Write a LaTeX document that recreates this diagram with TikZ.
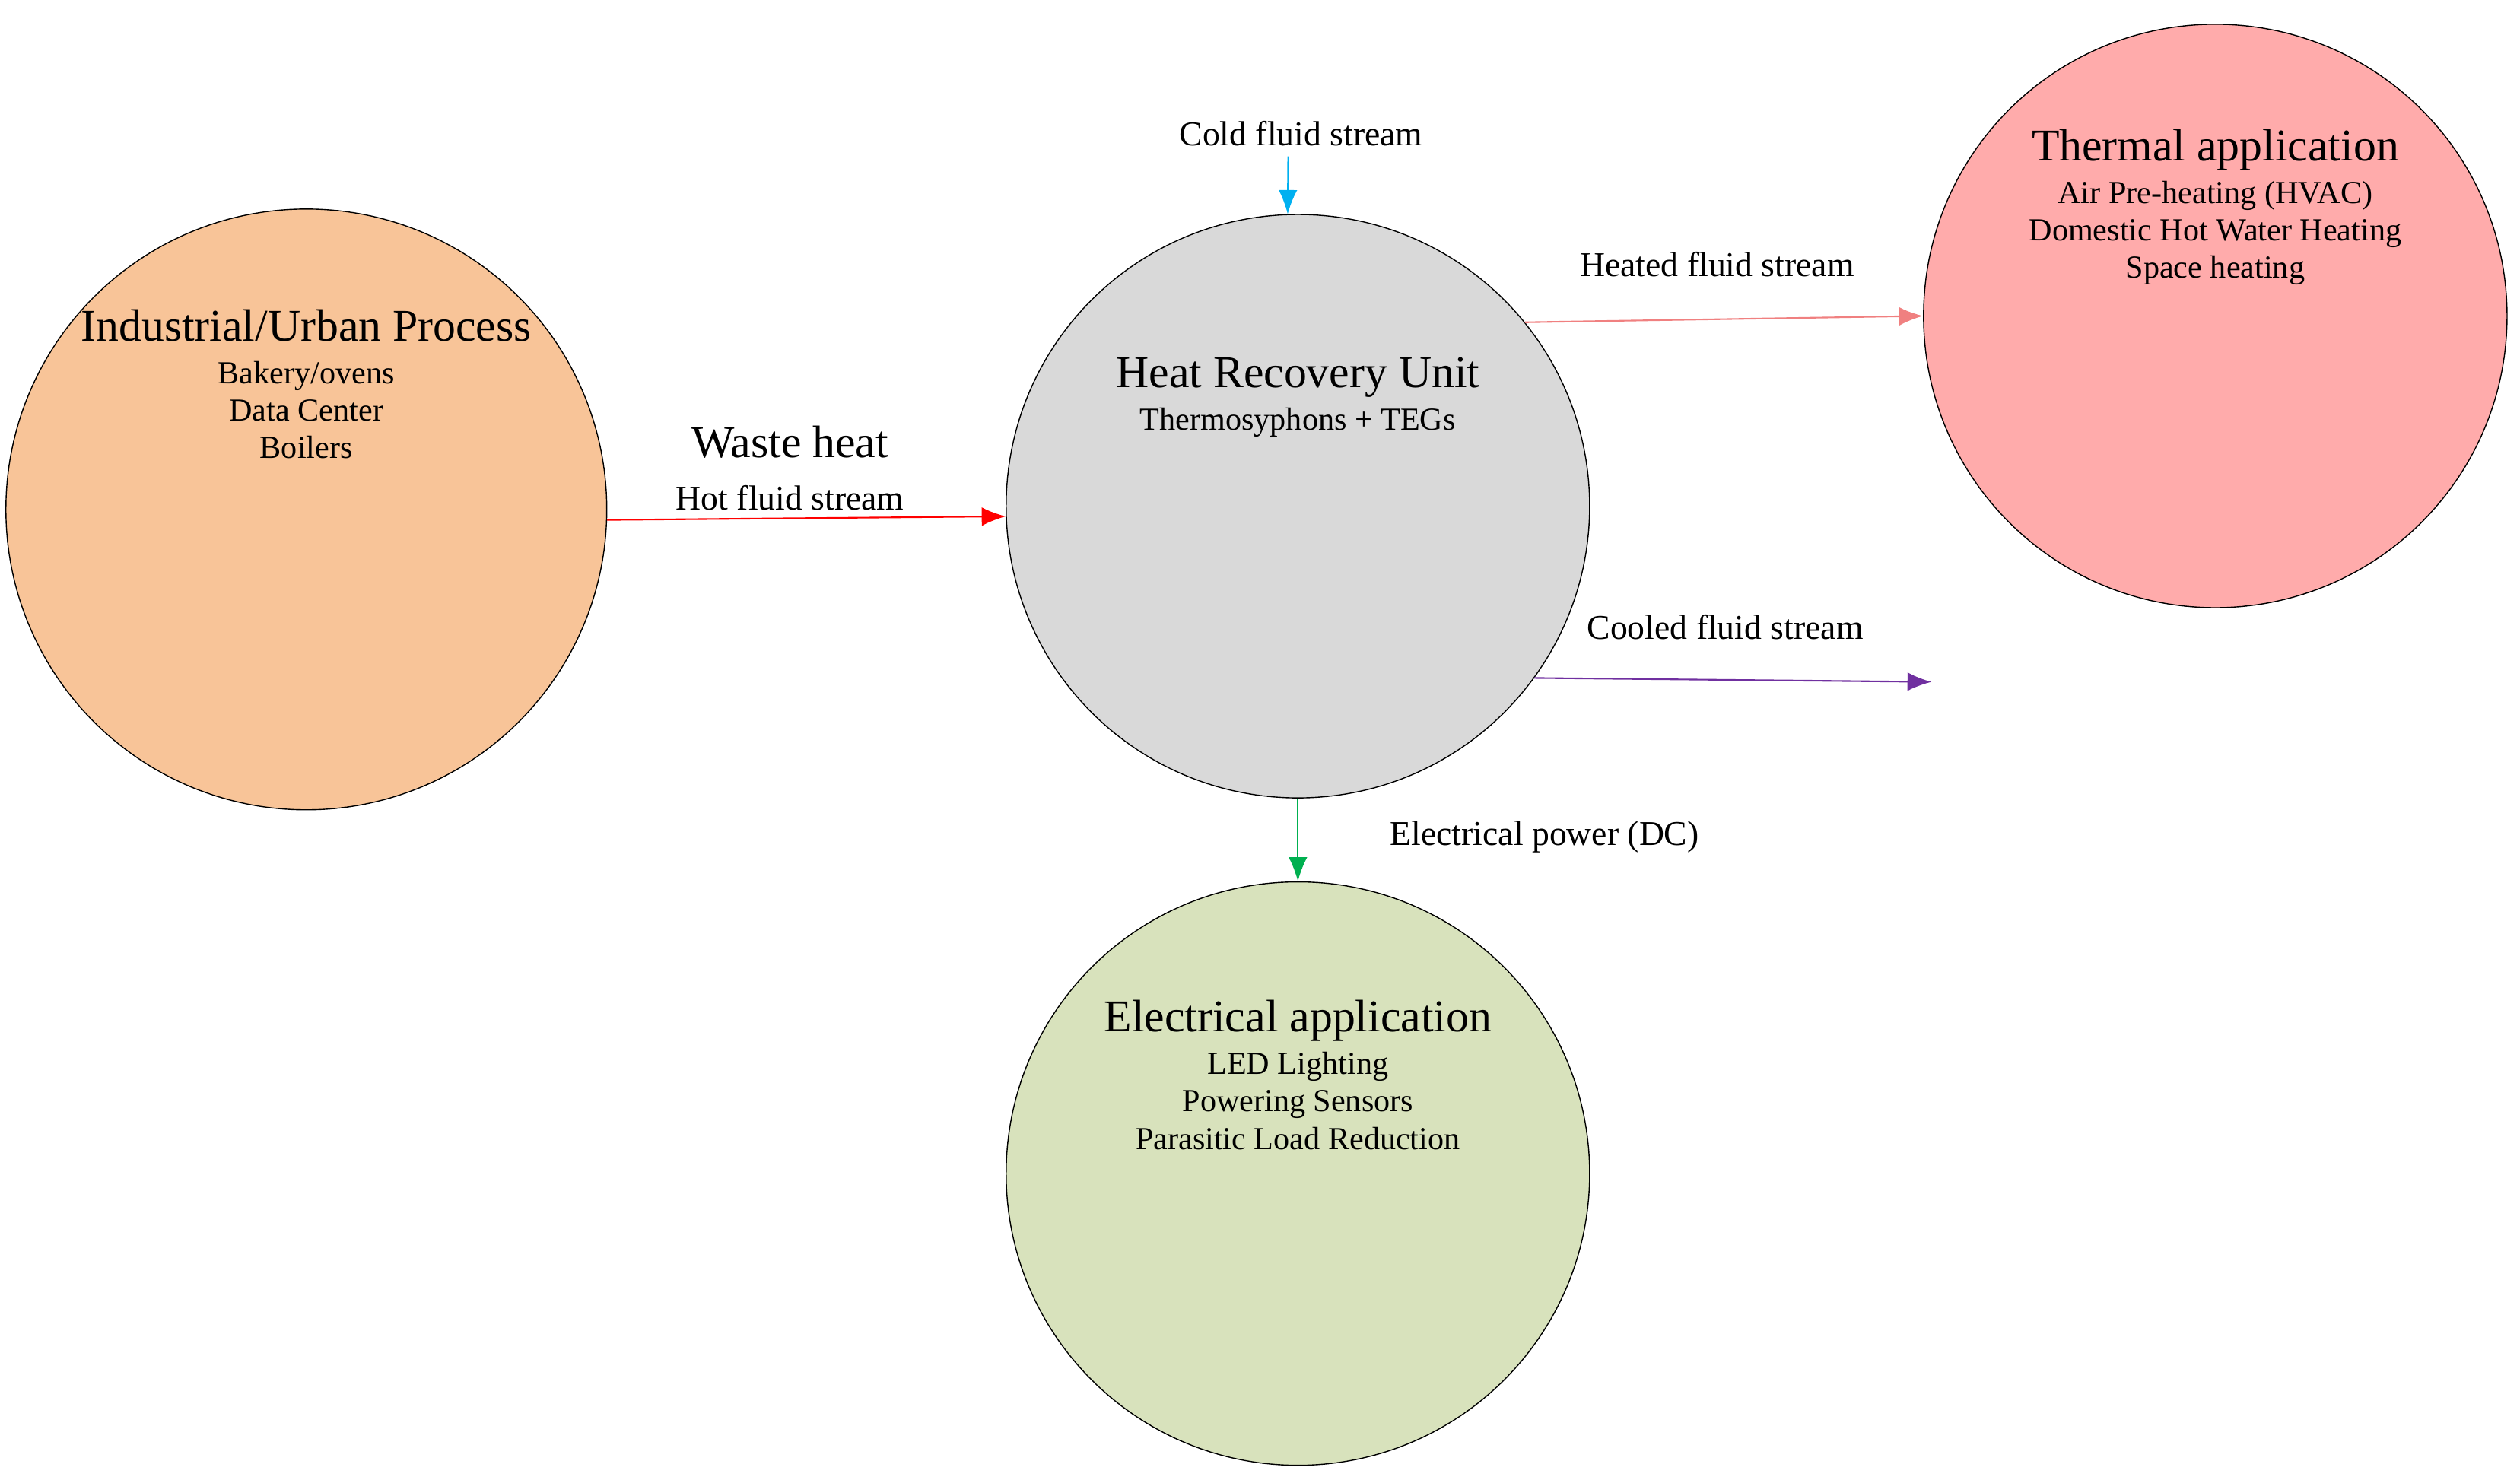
\documentclass[tikz,border=0pt]{standalone}
\usepackage{fontspec}
\setmainfont{Liberation Serif}
\usetikzlibrary{arrows.meta}
\definecolor{procfill}{RGB}{248,196,152}
\definecolor{unitfill}{RGB}{217,217,217}
\definecolor{thermfill}{RGB}{255,171,171}
\definecolor{elecfill}{RGB}{216,226,188}
\definecolor{hotline}{RGB}{255,0,0}
\definecolor{coldline}{RGB}{0,176,240}
\definecolor{heatline}{RGB}{240,128,128}
\definecolor{coolline}{RGB}{112,48,160}
\definecolor{powline}{RGB}{0,176,80}
\tikzset{
	stage/.style={draw, circle, minimum size=7.67cm, inner sep=0pt, align=center, font=\fontsize{12}{14}\selectfont},
	flow/.style={-{Latex[length=9pt,width=7pt]}, line width=0.6pt},
	lbl/.style={font=\fontsize{13}{15}\selectfont}
}
\newcommand{\ttl}[1]{{\fontsize{17}{22}\selectfont #1}\\[2pt]}
\begin{document}
\begin{tikzpicture}[x=0.021197cm, y=-0.021197cm]
	\useasboundingbox (0, 0) rectangle (1563, 918);

	\node[stage, fill=procfill] (proc) at (190, 316) {\ttl{Industrial/Urban Process}Bakery/ovens\\Data Center\\Boilers\\[80pt]};
	\node[stage, fill=unitfill] (unit) at (805, 314) {\ttl{Heat Recovery Unit}Thermosyphons + TEGs\\[70pt]};
	\node[stage, fill=thermfill] (therm) at (1374, 196) {\ttl{Thermal application}Air Pre-heating (HVAC)\\Domestic Hot Water Heating\\Space heating\\[70pt]};
	\node[stage, fill=elecfill] (elec) at (805, 728) {\ttl{Electrical application}LED Lighting\\Powering Sensors\\Parasitic Load Reduction\\[60pt]};

	\coordinate (coldin) at (799, 97);
	\coordinate (coolout) at (1198, 423);

	\draw[flow, hotline] (proc.-2) -- (unit.182);
	\draw[flow, coldline] (coldin) -- (unit.92);
	\draw[flow, heatline] (unit.39.5) -- (therm.west);
	\draw[flow, coolline] (unit.-36.6) -- (coolout);
	\draw[flow, powline] (unit.south) -- (elec.north);

	\node[font=\fontsize{17}{20}\selectfont] (wastelbl) at (490, 274) {Waste heat};
	\node[lbl] (hotlbl) at (490, 309) {Hot fluid stream};
	\node[lbl] (coldlbl) at (807, 83) {Cold fluid stream};
	\node[lbl] (heatlbl) at (1065, 164) {Heated fluid stream};
	\node[lbl] (coollbl) at (1070, 389) {Cooled fluid stream};
	\node[lbl] (powlbl) at (958, 519) {Electrical power (DC)};

\end{tikzpicture}
\end{document}
